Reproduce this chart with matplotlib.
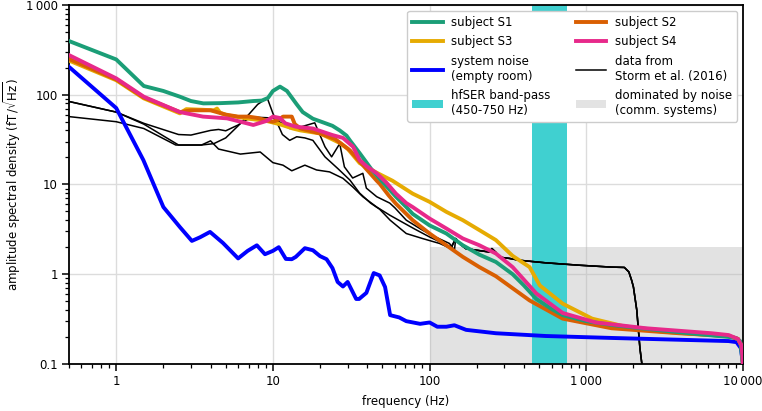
import matplotlib
matplotlib.use("Agg")
import matplotlib.pyplot as plt
from matplotlib.ticker import FixedLocator, FuncFormatter, LogLocator, NullFormatter
from matplotlib.patches import Patch
from matplotlib.lines import Line2D

plt.rcParams['font.family'] = ['DejaVu Sans']
plt.rcParams['font.size'] = 8.5

# ---------------- data ----------------
s1_f = [0.5, 1, 1.5, 2, 2.55, 3.0, 3.6, 4.6, 6, 7.5, 8.5, 9.3, 10, 11.1, 12.3, 14.2, 15.5, 18, 21, 24,
        26.7, 29.5, 31, 35.8, 43, 48, 55.7, 61, 71, 78, 100, 128, 163, 208, 265, 339, 400, 480, 600,
        707, 1000, 1500, 2500, 4000, 6000, 8100, 9000, 9600, 10000]
s1_v = [396, 247, 125, 110, 95, 85, 80, 80.5, 82, 85, 86, 92, 110, 123, 110, 78, 64, 54, 49, 45,
        40, 35, 31, 22.3, 14.4, 11.6, 8.7, 7.3, 5.6, 4.7, 3.5, 2.84, 2.1, 1.65, 1.37, 1.0, 0.75, 0.53, 0.41,
        0.35, 0.3, 0.27, 0.245, 0.225, 0.21, 0.2, 0.195, 0.18, 0.1]

s2_f = [0.5, 1, 1.5, 2.55, 3, 4, 5, 6, 7, 8, 9, 10, 11, 11.6, 13.2, 13.8, 15, 20, 25, 31, 38, 46, 48,
        55, 61, 78, 100, 128, 163, 208, 265, 435, 707, 1450, 3900, 8100, 9300, 9800, 10000]
s2_v = [250, 148, 93, 64, 67, 67, 60, 57, 57, 55, 52, 50, 53, 57, 57, 47, 42, 37, 32, 24, 16, 11, 10.2,
        7.5, 6.1, 4.0, 2.84, 2.1, 1.56, 1.2, 0.95, 0.51, 0.32, 0.25, 0.22, 0.205, 0.19, 0.16, 0.1]

s3_f = [0.5, 1, 1.5, 2.55, 2.8, 3.5, 4.2, 4.4, 4.6, 5.1, 7, 9.1, 11, 13.4, 15, 20, 26.7, 30, 35.8, 40,
        46, 58, 78, 100, 128, 163, 208, 265, 339, 435, 505, 707, 1090, 1870, 3000, 5000, 8100, 9300,
        9800, 10000]
s3_v = [240, 145, 91, 62, 69, 68, 67, 70, 63, 59, 54, 51, 47, 42, 40, 37, 29, 25, 17.3, 15.5,
        13.5, 11.0, 7.9, 6.4, 4.95, 4.0, 3.1, 2.4, 1.6, 1.2, 0.75, 0.47, 0.32, 0.255, 0.23, 0.215, 0.205, 0.19,
        0.16, 0.1]

s4_f = [0.5, 1, 1.5, 2.55, 3.58, 5.1, 6.5, 7.5, 9.1, 10, 11.1, 12, 14, 18, 24, 28, 32.5, 35.8, 39.5,
        46, 53, 61, 71, 78, 100, 128, 163, 208, 265, 339, 480, 707, 1150, 2400, 6300, 8100, 9300, 9800, 10000]
s4_v = [276, 152, 95, 64, 57, 54.5, 49, 46, 51, 57, 55, 48, 44, 42, 35.5, 33, 26.3, 18.7, 16,
        13.3, 10.5, 7.9, 6.2, 5.6, 4.17, 3.23, 2.5, 2.1, 1.7, 1.2, 0.61, 0.37, 0.29, 0.25, 0.22, 0.21, 0.19, 0.16, 0.1]

noise_f = [0.5, 1, 1.49, 2.0, 2.55, 3.04, 3.43, 3.97, 4.8, 6, 6.9, 7.9, 8.9, 10, 10.9, 12.1, 13.2, 14,
           16, 18, 20, 22, 24, 25.9, 28, 30, 34, 35.5, 39.5, 44, 48, 52, 56, 64, 71, 87, 100, 112, 128,
           144, 171, 265, 550, 1450, 8100, 9100, 9700, 10000]
noise_v = [204, 71, 18.7, 5.6, 3.35, 2.35, 2.58, 2.96, 2.23, 1.5, 1.82, 2.1, 1.67, 1.82, 2.0, 1.48, 1.47, 1.56,
           1.95, 1.85, 1.59, 1.47, 1.17, 0.82, 0.73, 0.82, 0.53, 0.53, 0.62, 1.03, 0.97, 0.72, 0.35, 0.33, 0.30,
           0.28, 0.29, 0.26, 0.26, 0.27, 0.24, 0.22, 0.205, 0.195, 0.18, 0.175, 0.15, 0.1]

# Storm et al. (2016): three traces
storm1_f = [0.5, 1, 1.5, 2.5, 3, 4, 4.5, 5, 6, 7, 8, 10, 11, 12.8, 14.9, 18.5, 21.5, 23.7, 26.7, 28.6,
            32.3, 37.5, 39.5, 46, 55.7, 60, 71, 90, 104, 134, 144, 147, 160, 170, 200, 240, 250, 265,
            278, 323, 375, 550, 900, 1450, 1750, 1870, 1950, 2000, 2100, 2200, 2300]
storm1_v = [84, 64, 48, 36, 35.5, 40, 41, 39.6, 46, 54, 56, 55, 50, 42, 43.5, 48.6, 26.3, 20.3, 28.5, 15.7,
            11.8, 13.3, 9.1, 7.3, 6.2, 5.5, 4.0, 3.1, 2.7, 2.2, 1.85, 2.5, 2.1, 1.93, 1.85, 1.77, 1.93, 1.75,
            1.55, 1.5, 1.43, 1.34, 1.26, 1.2, 1.19, 1.06, 0.85, 0.72, 0.4, 0.15, 0.08]
storm2_f = [0.5, 1, 1.5, 2.5, 3.5, 4.2, 5, 6, 7, 8, 9.2, 10, 11.5, 12.8, 14.2, 16, 18, 21.5, 26, 31,
            35.8, 42, 48, 56, 71, 90, 116, 137, 147, 160, 170, 200, 240, 250, 265, 278, 323, 375, 550,
            900, 1450, 1750, 1870, 1950, 2000, 2100, 2200, 2300]
storm2_v = [84, 64, 47, 27.5, 27.5, 28.5, 33, 45, 60, 78, 92, 62, 36, 31, 34, 33, 31, 20.3, 15, 11.2,
            8.0, 6.2, 5.3, 4.0, 2.84, 2.5, 2.2, 1.93, 2.5, 2.1, 1.93, 1.85, 1.77, 1.93, 1.75, 1.55, 1.5, 1.43, 1.34,
            1.26, 1.2, 1.19, 1.06, 0.85, 0.72, 0.4, 0.15, 0.08]
storm3_f = [0.5, 1, 1.5, 2.4, 3.5, 4, 4.5, 6.2, 8.3, 10, 11.6, 13.2, 16, 19, 23, 28, 32.3, 37.5, 46,
            55.7, 67, 80, 100, 116, 137, 147, 160, 170, 200, 240, 250, 265, 278, 323, 375, 550, 900,
            1450, 1750, 1870, 1950, 2000, 2100, 2200, 2300]
storm3_v = [57, 50, 42, 27.5, 27.5, 30.6, 24.8, 21.8, 23, 17.5, 16.4, 14.2, 16.4, 14.5, 13.8, 11.7, 9.4, 7.3, 5.6,
            4.55, 3.8, 3.2, 2.6, 2.3, 2.0, 2.5, 2.1, 1.93, 1.85, 1.77, 1.93, 1.75, 1.55, 1.5, 1.43, 1.34, 1.26,
            1.2, 1.19, 1.06, 0.85, 0.72, 0.4, 0.15, 0.08]

band_lo, band_hi = 450, 750
noise_region_f = [100, 10000]
noise_region_top = 2.0

labels = ['subject S1', 'subject S2', 'subject S3', 'subject S4',
          'system noise\n(empty room)', 'data from\nStorm et al. (2016)',
          'hfSER band-pass\n(450-750 Hz)', 'dominated by noise\n(comm. systems)']

c_s1, c_s2, c_s3, c_s4 = '#1b9e77', '#d95f02', '#e6ab02', '#e7298a'
c_noise = '#0000ff'
c_band = '#40d0d0'

# ---------------- figure ----------------
fig = plt.figure(figsize=(7.62, 4.11), dpi=100)
ax = fig.add_axes([0.0906, 0.1144, 0.975 - 0.0906, 0.988 - 0.1144])
ax.set_xscale('log')
ax.set_yscale('log')
ax.set_xlim(0.5, 10000)
ax.set_ylim(0.1, 1000)

ax.grid(True, which='major', color='#dcdcdc', linewidth=1.0, zorder=0.5)
ax.set_axisbelow(True)

ax.fill_between(noise_region_f, [0.1, 0.1], [noise_region_top, noise_region_top],
                color='#b8b8b8', alpha=0.4, linewidth=0, zorder=1)
ax.axvspan(band_lo, band_hi, color=c_band, linewidth=0, zorder=1.5)

lw_k = 1.1
for fx, vy in [(storm1_f, storm1_v), (storm2_f, storm2_v), (storm3_f, storm3_v)]:
    ax.plot(fx, vy, color='black', linewidth=lw_k, zorder=2)

lw = 2.8
ax.plot(noise_f, noise_v, color=c_noise, linewidth=lw, zorder=3)
ax.plot(s3_f, s3_v, color=c_s3, linewidth=lw, zorder=3)
ax.plot(s2_f, s2_v, color=c_s2, linewidth=lw, zorder=3)
ax.plot(s1_f, s1_v, color=c_s1, linewidth=lw, zorder=3)
ax.plot(s4_f, s4_v, color=c_s4, linewidth=lw, zorder=3)


def fmt(v, pos):
    if v >= 1000:
        return f"{int(round(v)):,}".replace(",", "\u2009")
    if v >= 1:
        return f"{int(round(v))}"
    return f"{v:g}"


ax.xaxis.set_major_locator(FixedLocator([1, 10, 100, 1000, 10000]))
ax.yaxis.set_major_locator(FixedLocator([0.1, 1, 10, 100, 1000]))
ax.xaxis.set_major_formatter(FuncFormatter(fmt))
ax.yaxis.set_major_formatter(FuncFormatter(fmt))
ax.xaxis.set_minor_locator(LogLocator(base=10, subs=range(2, 10), numticks=20))
ax.yaxis.set_minor_locator(LogLocator(base=10, subs=range(2, 10), numticks=20))
ax.xaxis.set_minor_formatter(NullFormatter())
ax.yaxis.set_minor_formatter(NullFormatter())
ax.tick_params(which='major', length=5, width=1.1, labelsize=8.5, color='black', pad=3)
ax.tick_params(which='minor', length=3, width=0.9, color='black')
for sp in ax.spines.values():
    sp.set_linewidth(1.3)

ax.set_xlabel('frequency (Hz)', fontsize=8.5, labelpad=5)
ax.set_ylabel(r'amplitude spectral density (fT$\,/\sqrt{\mathrm{Hz}}$)', fontsize=8.5, labelpad=2)

handles = [
    Line2D([], [], color=c_s1, linewidth=lw),
    Line2D([], [], color=c_s3, linewidth=lw),
    Line2D([], [], color=c_noise, linewidth=lw),
    Patch(facecolor=c_band, edgecolor='none'),
    Line2D([], [], color=c_s2, linewidth=lw),
    Line2D([], [], color=c_s4, linewidth=lw),
    Line2D([], [], color='black', linewidth=lw_k),
    Patch(facecolor='#e3e3e3', edgecolor='none'),
]
leg_labels = [labels[0], labels[2], labels[4], labels[6], labels[1], labels[3], labels[5], labels[7]]
leg = ax.legend(handles, leg_labels, ncol=2, loc='upper right', fontsize=8.5,
                frameon=True, fancybox=True, framealpha=1.0, edgecolor='#cccccc',
                handlelength=2.6, handleheight=0.6, columnspacing=2.1, labelspacing=0.55,
                borderaxespad=0.5, handletextpad=0.75, borderpad=0.4)
leg.set_zorder(5)

fig.savefig('out.png', dpi=100)
